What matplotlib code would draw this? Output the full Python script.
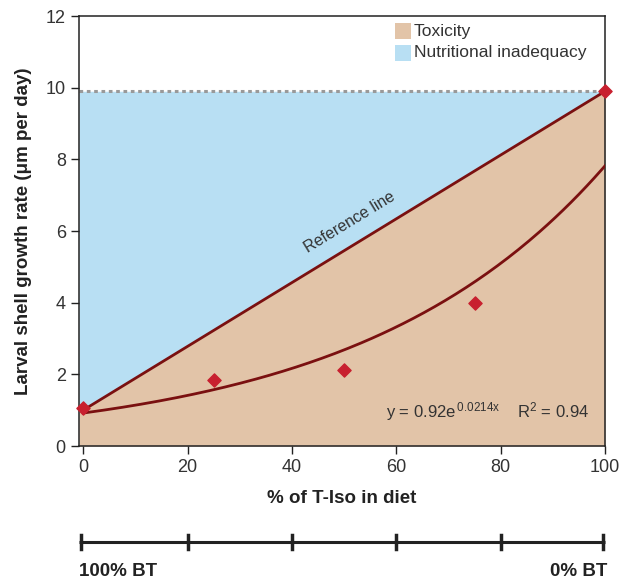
import numpy as np
import matplotlib.pyplot as plt

# Data
pct_tiso = [0, 25, 50, 75, 100]
growth = [1.05, 1.85, 2.12, 3.98, 9.9]
ref_x = [0, 100]
ref_y = [1.0, 9.9]
max_growth = 9.9
fit_a, fit_b = 0.92, 0.0214   # y = a*e^(b*x), as printed on the chart
x_ticks = [0, 20, 40, 60, 80, 100]
y_ticks = [0, 2, 4, 6, 8, 10, 12]

tan = '#E2C4A8'
blue = '#B8DFF3'
dark_red = '#7A1010'
red = '#C8202F'
txt = '#333333'

plt.rcParams['font.family'] = ['Liberation Sans', 'DejaVu Sans']
plt.rcParams['mathtext.default'] = 'regular'

fig = plt.figure(figsize=(6.22, 5.85), dpi=100)
ax = fig.add_axes([0.127, 0.2376, 0.8457, 0.735])
x0 = -0.8
ax.set_xlim(x0, 100)
ax.set_ylim(0, 12)

# fills
xr = np.array([x0, 100])
yr = ref_y[0] + (ref_y[1] - ref_y[0]) / 100 * xr
ax.fill_between(xr, 0, yr, color=tan, lw=0, zorder=1)
ax.fill_between(xr, yr, max_growth, color=blue, lw=0, zorder=1)
ax.plot([x0, 100], [max_growth, max_growth], color='#999999', lw=2.2,
        linestyle=(0, (1.2, 1.2)), zorder=2)

# lines
ax.plot(ref_x, ref_y, color=dark_red, lw=2, zorder=3)
xf = np.linspace(0, 100, 200)
ax.plot(xf, fit_a*np.exp(fit_b*xf), color=dark_red, lw=2, zorder=3)
ax.scatter(pct_tiso, growth, marker='D', s=45, color=red, zorder=5, clip_on=False)

ax.text(51, 6.25, 'Reference line', rotation=31.4, rotation_mode='anchor',
        ha='center', va='center', fontsize=11.5, color=txt)
ax.text(97, 0.95, 'y = 0.92e$^{\\,0.0214x}$    R$^2$ = 0.94', ha='right',
        va='center', fontsize=12, color=txt)

# legend
ax.add_patch(plt.Rectangle((59.7, 11.35), 3.1, 0.45, color=tan, lw=0))
ax.add_patch(plt.Rectangle((59.7, 10.75), 3.1, 0.45, color=blue, lw=0))
ax.text(63.4, 11.57, 'Toxicity', va='center', fontsize=12.5, color=txt)
ax.text(63.4, 10.97, 'Nutritional inadequacy', va='center', fontsize=12.5, color=txt)

ax.set_xticks(x_ticks)
ax.set_yticks(y_ticks)
ax.tick_params(direction='out', length=6, width=1, colors='#222222',
               labelcolor=txt, labelsize=13)
for s in ax.spines.values():
    s.set_color('#222222')
    s.set_linewidth(1.1)
ax.set_xlabel('% of T-Iso in diet', fontsize=13.5, fontweight='bold',
              color='#222222', labelpad=10)
ax.set_ylabel('Larval shell growth rate (μm per day)', fontsize=13.5,
              fontweight='bold', color='#222222', labelpad=10)

# lower BT scale bar
bx = fig.add_axes([0.127, 0.0, 0.8457, 0.2])
bx.set_xlim(x0, 100)
bx.set_ylim(0, 1)
bx.axis('off')
bar_y = (585 - 542) / 117
bx.plot([x0, 100], [bar_y, bar_y], color='#222222', lw=2.2,
        solid_capstyle='butt', clip_on=False)
for t in [x0 + 0.3] + x_ticks[1:-1] + [99.7]:
    bx.plot([t, t], [bar_y - 0.06, bar_y + 0.06], color='#222222', lw=2.5,
            clip_on=False)
bx.text(x0, (585 - 571) / 117, '100% BT', ha='left', va='center', fontsize=13.5,
        fontweight='bold', color='#222222')
bx.text(100.5, (585 - 571) / 117, '0% BT', ha='right', va='center', fontsize=13.5,
        fontweight='bold', color='#222222')

fig.savefig('out.png', dpi=100)
